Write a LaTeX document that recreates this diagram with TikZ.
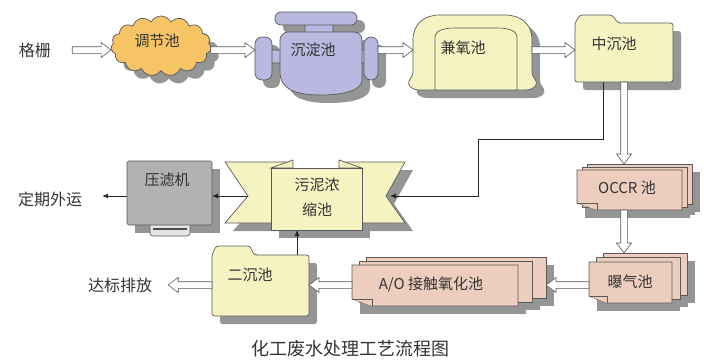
\documentclass[tikz,border=0pt]{standalone}
\usepackage{fontspec}
\setmainfont{Noto Sans CJK SC}
\usetikzlibrary{calc,shapes.symbols,arrows.meta}
\definecolor{cyel}{HTML}{F6F3C3}
\definecolor{corg}{HTML}{F6C465}
\definecolor{clav}{HTML}{B8B8E0}
\definecolor{cpink}{HTML}{EDCDBD}
\definecolor{cgray}{HTML}{B2B2B2}
\definecolor{cline}{HTML}{5A5A5A}
\definecolor{sgr}{HTML}{959595}
\definecolor{ctext}{HTML}{333333}
\tikzset{
  shp/.style={draw=cline, line width=0.7pt},
  cloudshape/.style={cloud, cloud puffs=15, cloud puff arc=125, aspect=1.6, inner sep=0pt,
    minimum width=100pt, minimum height=60pt},
  lbl/.style={font=\fontsize{15}{17}\selectfont, text=ctext, inner sep=1pt},
  olbl/.style={font=\fontsize{16}{18}\selectfont, text=ctext, inner sep=1pt},
  bb/.style 2 args={inner sep=0pt, outer sep=0pt, minimum width=#1pt, minimum height=#2pt},
  thinarr/.style={draw=black!85, line width=0.8pt, -{Latex[length=6pt,width=5pt]}},
  hollow/.style={draw=cline, fill=white, line width=0.6pt,
    to path={let \p1=(\tikztostart), \p2=(\tikztotarget), \n1={atan2(\y2-\y1,\x2-\x1)} in
      ($(\p1)+(\n1+90:3.3pt)$) -- ($(\p2)+(\n1+180:10pt)+(\n1+90:3.3pt)$)
      -- ($(\p2)+(\n1+180:10pt)+(\n1+90:7.5pt)$) -- (\p2)
      -- ($(\p2)+(\n1+180:10pt)+(\n1-90:7.5pt)$) -- ($(\p2)+(\n1+180:10pt)+(\n1-90:3.3pt)$)
      -- ($(\p1)+(\n1-90:3.3pt)$) -- cycle}}
}
\begin{document}
\begin{tikzpicture}[x=1pt,y=-1pt]
\useasboundingbox (0,0) rectangle (704,362);
\coordinate (row1) at (0,50);
\coordinate (row2) at (0,196);
\coordinate (row3) at (0,285);
% bounding nodes
\node[bb={123}{83}] (cd) at (316.5,53.5) {};
\node[bb={119}{75}] (jy) at (472.5,52.5) {};
\node[bb={98}{67}] (zc) at (624,48.5) {};
\node[bb={115}{46}] (oc) at (634.5,187) {};
\node[bb={98}{50}] (bq) at (638,278) {};
\node[bb={194}{49}] (ao) at (449,281.5) {};
\node[bb={97}{70}] (ec) at (260.5,281) {};
\node[bb={180}{68}] (wn) at (315,196) {};
\node[bb={85}{64}] (yl) at (169.5,193) {};
\coordinate (wnL) at (248,196);
\coordinate (wnR) at (390,196);
\coordinate (k1) at (478,139);
\coordinate (e1) at (297,255);
% ---------- shadows ----------
\node[cloudshape, fill=sgr] (tjs) at (169,54) {};
\fill[sgr] (313,33) rectangle (341,40);
\fill[sgr] (280,58) rectangle (288,71);
\fill[sgr] (370,58) rectangle (373,71);
\fill[sgr, rounded corners=6pt] (283,20) rectangle (365,33);
\fill[sgr, rounded corners=7pt] (263,45) rectangle (280,88);
\fill[sgr, rounded corners=7pt] (372,45) rectangle (386,88);
\fill[sgr] (288,80) [rounded corners=8pt] -- (288,40) -- (370,40) -- (370,80) [sharp corners]
  .. controls (370,98) and (353,103) .. (329,103) .. controls (305,103) and (288,98) .. (288,80) -- cycle;
\fill[sgr] (443,98) -- (428,98) .. controls (419,98) and (415,93) .. (417,89)
  .. controls (419,85) and (421,84) .. (421,80) -- (421,48)
  .. controls (421,32) and (432,23) .. (448,23) -- (513,23)
  .. controls (529,23) and (540,32) .. (540,48) -- (540,80)
  .. controls (540,84) and (542,85) .. (544,89) .. controls (546,93) and (542,98) .. (533,98)
  -- (525,98) -- cycle;
\fill[sgr, rounded corners=2.5pt] (583,90) -- (583,31) -- (588,23) -- (620,23) -- (626,31) -- (681,31) -- (681,90) -- cycle;
\fill[sgr, rounded corners=2.5pt] (220,324) -- (220,263) -- (224,254) -- (258,254) -- (262,263) -- (317,263) -- (317,324) -- cycle;
\fill[sgr] (233,170) -- (296,170) -- (296,231) -- (233,231) -- (256,204) -- cycle;
\fill[sgr] (413,170) -- (353,170) -- (353,231) -- (413,231) -- (394,204) -- cycle;
\fill[sgr] (279,176) rectangle (370,238);
\fill[sgr] (595,172) rectangle (700,212);
\fill[sgr] (590,175) rectangle (695,215);
\fill[sgr] (585,178) rectangle (690,218);
\fill[sgr] (611,261) rectangle (695,303);
\fill[sgr] (604,265) rectangle (688,307);
\fill[sgr] (597,270) rectangle (680,311);
\fill[sgr] (374,265) rectangle (554,306);
\fill[sgr] (367,269) rectangle (540,310);
\fill[sgr] (360,273) rectangle (526,314);
\fill[sgr] (135,169) rectangle (220,233);
% ---------- shapes ----------
\node[cloudshape, shp, fill=corg] (tj) at (161,46) {};
% sedimentation tank
\draw[shp, fill=clav]
  (305,25) rectangle (333,32)
  (272,50) rectangle (280,63)
  (362,50) rectangle (364,63)
  [rounded corners=6pt] (275,12) rectangle (357,25)
  [rounded corners=7pt] (255,37) rectangle (272,80)
  (364,37) rectangle (378,80)
  [rounded corners=8pt] (280,72) -- (280,32) -- (362,32) -- (362,72)
  [sharp corners] .. controls (362,90) and (345,95) .. (321,95)
  .. controls (297,95) and (280,90) .. (280,72) -- cycle;
% jianyang tank
\draw[shp, fill=cyel] (435,90) -- (420,90) .. controls (411,90) and (407,85) .. (409,81)
  .. controls (411,77) and (413,76) .. (413,72) -- (413,40)
  .. controls (413,24) and (424,15) .. (440,15) -- (505,15)
  .. controls (521,15) and (532,24) .. (532,40) -- (532,72)
  .. controls (532,76) and (534,77) .. (536,81) .. controls (538,85) and (534,90) .. (525,90)
  -- (517,90) -- cycle;
\draw[shp, fill=cyel] (435,90) -- (435,38) .. controls (435,31) and (442,28) .. (455,28)
  -- (497,28) .. controls (510,28) and (517,31) .. (517,38) -- (517,90) -- cycle;
% folders
\draw[shp, fill=cyel, rounded corners=2.5pt] (575,82) -- (575,23) -- (580,15) -- (612,15)
  -- (618,23) -- (673,23) -- (673,82) -- cycle;
\draw[shp, fill=cyel, rounded corners=2.5pt] (212,316) -- (212,255) -- (216,246) -- (250,246)
  -- (254,255) -- (309,255) -- (309,316) -- cycle;
% OCCR pages
\draw[shp, fill=cpink] (587,164) rectangle (692,204);
\draw[shp, fill=cpink] (582,167) rectangle (687,207);
\draw[shp, fill=cpink] (577,170) -- (682,170) -- (682,210) -- (597,210) -- (577,203) -- cycle;
\draw[shp, fill=cpink] (577,203) -- (597,203) -- (597,210);
% aeration pages
\draw[shp, fill=cpink] (603,253) rectangle (687,295);
\draw[shp, fill=cpink] (596,257) rectangle (680,299);
\draw[shp, fill=cpink] (589,262) -- (672,262) -- (672,303) -- (607,303) -- (589,296) -- cycle;
\draw[shp, fill=cpink] (589,296) -- (607,296) -- (607,303);
% A/O pages
\draw[shp, fill=cpink] (366,257) rectangle (546,298);
\draw[shp, fill=cpink] (359,261) rectangle (532,302);
\draw[shp, fill=cpink] (352,265) -- (518,265) -- (518,306) -- (372,306) -- (352,299) -- cycle;
\draw[shp, fill=cpink] (352,299) -- (372,299) -- (372,306);
% ribbon (sludge thickener)
\draw[shp, fill=cyel] (225,162) -- (288,162) -- (288,223) -- (225,223) -- (248,196) -- cycle;
\draw[shp, fill=cyel] (405,162) -- (345,162) -- (345,223) -- (405,223) -- (386,196) -- cycle;
\draw[shp, fill=cyel] (271,168) -- (293,160) -- (293,168) -- cycle;
\draw[shp, fill=cyel] (362,168) -- (339,160) -- (339,168) -- cycle;
\draw[shp, fill=cyel] (271,168) rectangle (362,230);
% filter press
\draw[shp, fill=gray!20, rounded corners=3pt] (150,222) rectangle (190,236);
\draw[line width=1.3pt, black!70] (153,229) -- (187,229);
\draw[shp, fill=cgray, rounded corners=1.5pt] (127,161) rectangle (212,225);
% ---------- texts ----------
\node[olbl] (gs) at (35,50) {格栅};
\node[lbl] (tjt) at (157,41) {调节池};
\node[lbl] (cdt) at (313,50) {沉淀池};
\node[lbl] (jyt) at (463,48) {兼氧池};
\node[lbl] (zct) at (614,44) {中沉池};
\node[lbl] (oct) at (627,188) {OCCR 池};
\node[lbl] (bqt) at (630,282) {曝气池};
\node[lbl] (aot) at (431,285) {A/O 接触氧化池};
\node[lbl] (ect) at (250,275) {二沉池};
\node[lbl, font=\fontsize{15}{25}\selectfont, align=center] (wnt) at (317,197) {污泥浓\\缩池};
\node[lbl] (ylt) at (167,180) {压滤机};
\node[olbl] (dq) at (50,199) {定期外运};
\node[olbl] (db) at (120,285) {达标排放};
\node[font=\fontsize{18}{20}\selectfont, text=ctext] (title) at (350,349) {化工废水处理工艺流程图};
% ---------- hollow arrows ----------
\draw[hollow] ([xshift=20pt]gs.east) to (tj.west |- row1);
\draw[hollow] (tj.east |- row1) to (cd.west |- row1);
\draw[hollow] (cd.east |- row1) to (jy.west |- row1);
\draw[hollow] (jy.east |- row1) to (zc.west |- row1);
\draw[hollow] (zc.south) to (zc.south |- oc.north);
\draw[hollow] (zc.south |- oc.south) to (zc.south |- bq.north);
\draw[hollow] (bq.west |- row3) to (ao.east |- row3);
\draw[hollow] (ao.west |- row3) to (ec.east |- row3);
\draw[hollow] (ec.west |- row3) to ([xshift=15pt]db.east |- row3);
% ---------- thin arrows ----------
\draw[thinarr] ([xshift=-21pt]zc.south) |- (k1) |- (wnR);
\draw[thinarr] (wnL) -- (yl.east |- wnL);
\draw[thinarr] (yl.west |- row2) -- ([xshift=19pt]dq.east |- row2);
\draw[thinarr] (e1) -- (e1 |- wn.south);
\end{tikzpicture}
\end{document}
